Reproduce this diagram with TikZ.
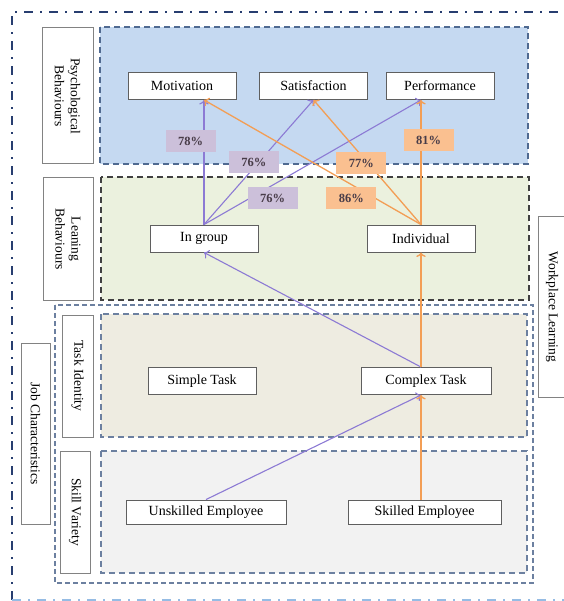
\documentclass[tikz,border=0pt]{standalone}
\usepackage{fontspec}
\setmainfont{Liberation Serif}
\usetikzlibrary{arrows.meta}

\definecolor{framedark}{RGB}{40,62,112}
\definecolor{framelight}{RGB}{150,188,228}
\definecolor{psychfill}{RGB}{197,217,241}
\definecolor{psychline}{RGB}{80,106,145}
\definecolor{leanfill}{RGB}{235,241,222}
\definecolor{leanline}{RGB}{64,64,64}
\definecolor{taskfill}{RGB}{238,236,225}
\definecolor{skillfill}{RGB}{242,242,242}
\definecolor{jobline}{RGB}{108,128,160}
\definecolor{boxgray}{RGB}{95,95,95}
\definecolor{taggray}{RGB}{130,130,130}
\definecolor{linkviolet}{RGB}{140,122,212}
\definecolor{linkamber}{RGB}{243,158,85}
\definecolor{tagviolet}{RGB}{204,192,218}
\definecolor{tagamber}{RGB}{250,192,144}
\definecolor{pcttext}{RGB}{72,60,72}

\begin{document}
\begin{tikzpicture}[x = 1pt, y = -1pt,
        box/.style = {draw = boxgray, line width = 0.9pt, fill = white,
            minimum width = 108pt, minimum height = 27pt, inner sep = 2pt,
            font = \fontsize{14}{16}\selectfont},
        tag/.style = {draw = taggray, line width = 1pt, fill = white, rotate = -90,
            align = center, inner sep = 1pt, font = \fontsize{13.5}{16}\selectfont},
        region/.style = {line width = 1.6pt, dash pattern = on 6pt off 4pt},
        pct/.style = {minimum width = 50pt, minimum height = 22pt, inner sep = 0pt,
            text = pcttext, font = \fontsize{12.5}{14}\selectfont\bfseries},
        violet link/.style = {draw = linkviolet, line width = 1.1pt, -{To[length = 4.5pt]}},
        amber link/.style = {draw = linkamber, line width = 1.3pt, -{To[length = 4.5pt]}}
    ]
    \useasboundingbox (0, 0) rectangle (563, 601);

    % outer frame
    \draw [framedark, line width = 1.5pt, dash pattern = on 9pt off 7pt on 2pt off 7pt]
        (12, 600) -- (12, 12) -- (575, 12);
    \draw [framelight, line width = 1.5pt, dash pattern = on 9pt off 7pt on 2pt off 7pt]
        (12, 600) -- (575, 600);

    % layers
    \filldraw [region, fill = psychfill, draw = psychline] (100, 27) rectangle (528, 164);
    \filldraw [region, fill = leanfill, draw = leanline, line width = 1.8pt] (101, 177) rectangle (529, 300);
    \draw [region, draw = jobline, line width = 1.3pt, dash pattern = on 5pt off 3pt] (55, 305) rectangle (533, 583);
    \filldraw [region, fill = taskfill, draw = jobline] (101, 314) rectangle (527, 437);
    \filldraw [region, fill = skillfill, draw = jobline] (101, 451) rectangle (527, 573);

    % layer titles
    \node [tag, minimum width = 136pt, minimum height = 51pt] (psychtag) at (67.5, 96) {Psychological\\Behaviours};
    \node [tag, minimum width = 122pt, minimum height = 50pt] (leantag) at (68, 239) {Leaning\\Behaviours};
    \node [tag, minimum width = 122pt, minimum height = 31pt] (tasktag) at (77.5, 376) {Task Identity};
    \node [tag, minimum width = 122pt, minimum height = 30pt] (skilltag) at (75, 512) {Skill Variety};
    \node [tag, minimum width = 181pt, minimum height = 29pt] (jobtag) at (35.5, 433.5) {Job Characteristics};
    \node [tag, minimum width = 180pt, minimum height = 28pt] (worktag) at (552, 307) {Workplace Learning};

    % boxes
    \node [box] (motivation) at (182, 86) {Motivation};
    \node [box] (satisfaction) at (313.5, 86) {Satisfaction};
    \node [box] (performance) at (440, 86) {Performance};
    \node [box] (ingroup) at (204, 238.5) {In group};
    \node [box] (individual) at (421, 238.5) {Individual};
    \node [box] (simple) at (202, 381) {Simple Task};
    \node [box, minimum width = 130pt] (complex) at (426, 381) {Complex Task};
    \node [box, minimum width = 160pt, minimum height = 24pt] (unskilled) at (206, 512) {Unskilled Employee};
    \node [box, minimum width = 153pt, minimum height = 24pt] (skilled) at (424.5, 512) {Skilled Employee};

    % links
    \draw [violet link] (unskilled.north) -- (individual.south |- complex.south);
    \draw [amber link] (individual.south |- skilled.north) -- (individual.south |- complex.south);
    \draw [violet link] (individual.south |- complex.north) -- (ingroup.south);
    \draw [amber link] (individual.south |- complex.north) -- (individual.south);

    \draw [violet link] (ingroup.north) -- node [pct, fill = tagviolet, pos = 0.67, xshift = -13.5pt] {78\%}
        (ingroup.north |- motivation.south);
    \draw [violet link] (ingroup.north) -- node [pct, fill = tagviolet, pos = 0.5, xshift = -5pt] {76\%}
        (satisfaction.south);
    \draw [violet link] (ingroup.north) -- node [pct, fill = tagviolet, pos = 0.21, xshift = 23pt] {76\%}
        (individual.north |- performance.south);
    \draw [amber link] (individual.north) -- node [pct, fill = tagamber, pos = 0.21, xshift = -24pt] {86\%}
        (ingroup.north |- motivation.south);
    \draw [amber link] (individual.north) -- node [pct, fill = tagamber, pos = 0.49, xshift = -7pt] {77\%}
        (satisfaction.south);
    \draw [amber link] (individual.north) -- node [pct, fill = tagamber, pos = 0.675, xshift = 7.5pt] {81\%}
        (individual.north |- performance.south);
\end{tikzpicture}
\end{document}
